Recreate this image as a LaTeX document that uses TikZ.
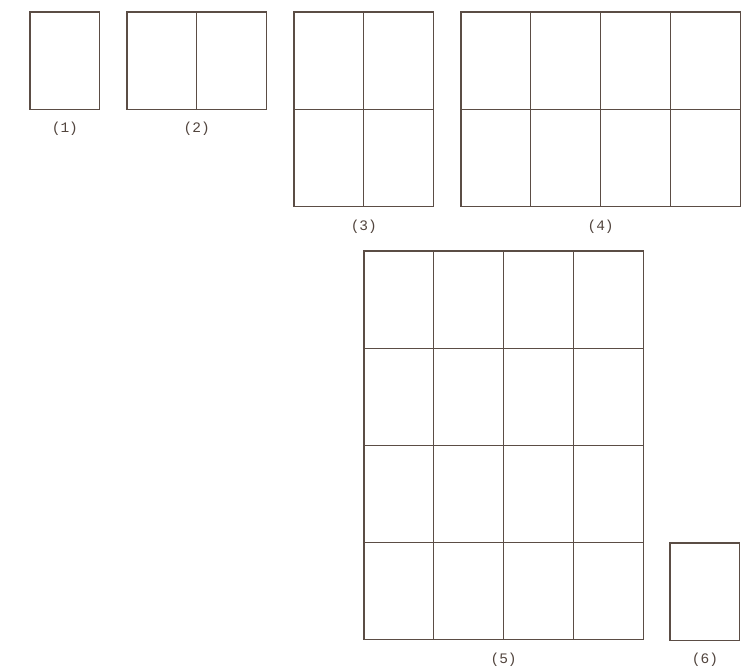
\documentclass[tikz,border=0pt]{standalone}
\usepackage{fontspec}
\setmonofont{Liberation Mono}
\definecolor{panecol}{HTML}{5B4D45}
\begin{document}
\begin{tikzpicture}[x=1pt,y=-1pt,line width=1.1pt,
  pane/.style={draw=panecol},
  lab/.style={font=\ttfamily\fontsize{14.5}{16}\selectfont,text=panecol!90!black}]
  \useasboundingbox (0,0) rectangle (745,669);
  % x/y of top left corner, columns, rows, number
  \foreach \x/\y/\c/\r/\n in {30/12/1/1/1,127/12/2/1/2,294/12/2/2/3,461/12/4/2/4,364/251/4/4/5,670/543/1/1/6}{
    \foreach \i in {1,...,\c}
      \foreach \j in {1,...,\r}
        \draw[pane] ({\x+(\i-1)*69.8},{\y+(\j-1)*97.2}) rectangle ++(69.8,97.2);
    \node[lab] (lab\n) at ({\x+\c*34.9},{\y+\r*97.2+20}) {(\n)};
  }
\end{tikzpicture}
\end{document}
